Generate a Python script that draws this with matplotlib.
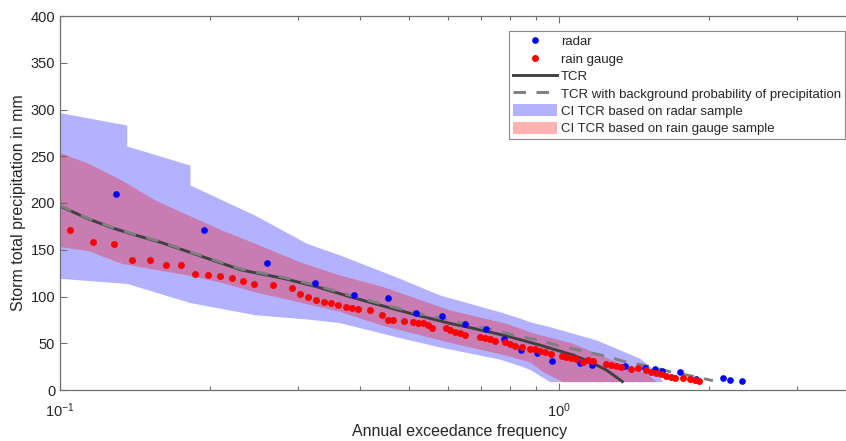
import numpy as np
import matplotlib
matplotlib.use("Agg")
import matplotlib.pyplot as plt
from matplotlib.ticker import NullFormatter, LogLocator

plt.rcParams['font.family'] = ['Liberation Sans', 'DejaVu Sans']
plt.rcParams['mathtext.default'] = 'regular'

# radar sample (annual exceedance frequency, storm total precipitation mm)
radar_x = [0.1297, 0.1944, 0.2596, 0.324, 0.3889, 0.4536, 0.5185, 0.5836, 0.648, 0.714,
           0.776, 0.841, 0.906, 0.971, 1.102, 1.166, 1.36, 1.487, 1.557, 1.614,
           1.748, 1.882, 2.135, 2.2, 2.33]
radar_y = [210, 171, 135.4, 114, 101.6, 98.4, 82, 78.8, 70.2, 64.9,
           54.9, 42.8, 39.9, 31, 28.5, 26.7, 25.7, 23.9, 22.1, 20.3,
           19.6, 11.8, 12.5, 10.7, 9.3]

# rain gauge sample
gauge_x = [0.1047, 0.1163, 0.1281, 0.1396, 0.1515, 0.1631, 0.1745, 0.1865, 0.198, 0.2092,
           0.2214, 0.2329, 0.2448, 0.2676, 0.2912, 0.3027, 0.3145, 0.3264, 0.3376, 0.3492,
           0.3613, 0.3737, 0.3842, 0.3962, 0.418, 0.4426, 0.4536, 0.4656, 0.4884, 0.5105,
           0.5224, 0.5346, 0.547, 0.558, 0.5935, 0.6047, 0.6186, 0.633, 0.648, 0.6946,
           0.7108, 0.7273, 0.744, 0.7796, 0.7978, 0.8163, 0.8422, 0.8748, 0.8951, 0.9162,
           0.9374, 0.967, 1.013, 1.036, 1.06, 1.085, 1.119, 1.145, 1.172, 1.246,
           1.275, 1.305, 1.336, 1.399, 1.442, 1.499, 1.534, 1.570, 1.606, 1.644,
           1.682, 1.708, 1.775, 1.830, 1.873, 1.908]
gauge_y = [171, 158.6, 156.5, 138.7, 138.7, 133.4, 133.4, 124, 123.3, 122.2,
           119.8, 116.9, 113.4, 112, 108.7, 103, 99.8, 96.3, 94.4, 93.3,
           90.5, 88.8, 87.3, 86.3, 85.2, 79.8, 75.2, 74.9, 73.8, 72.4,
           72, 71.3, 69.5, 65.9, 65.9, 64.2, 62.4, 60.6, 58.5, 57,
           55.3, 54.2, 52.1, 51, 48.8, 47, 45.6, 44.2, 43.5, 42,
           40.3, 38.8, 36.4, 35.6, 34.5, 32.8, 30.3, 32.1, 31.4, 27.8,
           26.7, 25.7, 24.9, 22.1, 23.5, 21.4, 19.6, 17.8, 16.8, 15,
           14.2, 13.2, 13.2, 11.8, 10.7, 9.6]

# TCR curve
tcr_x = [0.1, 0.1139, 0.1279, 0.1414, 0.1599, 0.1807, 0.2045, 0.2313, 0.2803, 0.3269,
         0.3813, 0.4446, 0.5186, 0.6047, 0.6736, 0.7856, 0.9162, 1.068, 1.1536, 1.246, 1.342]
tcr_y = [196.8, 183, 173, 165.8, 157.6, 147.9, 138, 128.3, 119.4, 110.5,
         99.8, 89.8, 80.2, 71.3, 66, 57.8, 48.1, 37.4, 30.3, 21.4, 9]

# TCR with background probability of precipitation
tcrbg_x = [0.1, 0.1139, 0.1279, 0.1414, 0.1599, 0.1807, 0.2045, 0.2313, 0.2803, 0.3269,
           0.3813, 0.4446, 0.5186, 0.6047, 0.6736, 0.744, 0.8228, 0.909, 1.005, 1.11,
           1.237, 1.356, 1.499, 1.669, 1.845, 2.038]
tcrbg_y = [197.5, 183.5, 173.5, 166.3, 158.2, 148.5, 138.8, 129.2, 120.5, 111.8,
           101.3, 91.6, 82.3, 74.9, 68.4, 64.2, 57.8, 53.5, 47, 42,
           36.4, 30.3, 26, 19.6, 15, 10]

# confidence interval, radar sample
ci_radar_x = [0.1, 0.1361, 0.1361, 0.1822, 0.1822, 0.2459, 0.3122, 0.3639, 0.4801, 0.5774,
              0.7616, 0.8355, 0.8748, 0.9594, 1.19, 1.453, 1.570, 1.616]
ci_radar_lo = [119.4, 114, 114, 93.5, 93.5, 80.5, 76, 72, 56, 46,
               33, 26, 22, 9, 9, 9, 9, 9]
ci_radar_hi = [296.6, 283.4, 261, 240.6, 219.3, 187, 156.9, 144.4, 119.4, 101.6,
               83.7, 77, 73, 67.7, 53.5, 34, 19.6, 9]

# confidence interval, rain gauge sample
ci_gauge_x = [0.1, 0.1139, 0.1329, 0.155, 0.1807, 0.211, 0.2459, 0.3027, 0.3639, 0.4446,
              0.6047, 0.7856, 0.8748, 0.9336, 1.017, 1.067, 1.283, 1.499, 1.570]
ci_gauge_lo = [153.3, 149, 135.4, 129, 123, 115, 105, 94, 84, 69,
               51, 37, 30, 19, 9, 9, 9, 9, 9]
ci_gauge_hi = [253.8, 242.5, 224.6, 203.2, 187.2, 171.1, 156.9, 137, 123, 110.5,
               85.6, 71.3, 62.3, 58, 53, 50, 32, 17.8, 9]

fig = plt.figure(figsize=(8.46, 4.41), dpi=100)
ax = fig.add_axes([60/846, 51/441, 799/846, 374/441])

ax.fill_between(ci_radar_x, ci_radar_lo, ci_radar_hi, color='blue', alpha=0.3, lw=0,
                label='CI TCR based on radar sample', zorder=1)
ax.fill_between(ci_gauge_x, ci_gauge_lo, ci_gauge_hi, color='red', alpha=0.3, lw=0,
                label='CI TCR based on rain gauge sample', zorder=2)

l1, = ax.plot(tcr_x, tcr_y, color='#404040', lw=2.1, label='TCR', zorder=3)
l2, = ax.plot(tcrbg_x, tcrbg_y, color='#7f7f7f', lw=2.1, dashes=(4.3, 3.6),
              label='TCR with background probability of precipitation', zorder=4)
p1, = ax.plot(radar_x, radar_y, 'o', color='blue', ms=4.8, mew=0, label='radar', zorder=5)
p2, = ax.plot(gauge_x, gauge_y, 'o', color='red', ms=5.0, mew=0, label='rain gauge', zorder=6)

ax.set_xscale('log')
ax.set_xlim(0.1, 4)
ax.set_ylim(0, 400)
ax.set_yticks(np.arange(0, 401, 50))
ax.xaxis.set_minor_locator(LogLocator(base=10, subs=np.arange(2, 10)))
ax.xaxis.set_minor_formatter(NullFormatter())

tc = '#262626'
ax.tick_params(which='both', direction='in', top=True, right=True, colors='#707070',
               labelcolor=tc, labelsize=10.5)
ax.tick_params(which='major', length=5, width=0.8)
ax.tick_params(which='minor', length=3, width=0.8)
ax.tick_params(axis='x', pad=8)
for s in ax.spines.values():
    s.set_color('#707070')
    s.set_linewidth(0.9)

ax.set_ylabel('Storm total precipitation in mm', fontsize=11.5, color=tc, labelpad=3)
ax.set_xlabel('Annual exceedance frequency', fontsize=11.5, color=tc, labelpad=3)

fills = ax.get_legend_handles_labels()[0][:2]
h = [p1, p2, l1, l2] + fills
lab = [x.get_label() for x in h]
leg = ax.legend(h, lab, loc='upper right', bbox_to_anchor=(845/846, 1 - 31/441),
                bbox_transform=fig.transFigure, borderaxespad=0, fontsize=9.5,
                fancybox=False, framealpha=1, edgecolor='#888888', handlelength=3.3,
                handleheight=1.0, handletextpad=0.3, labelspacing=0.3, borderpad=0.3)
leg.get_frame().set_linewidth(0.8)
for t in leg.get_texts():
    t.set_color(tc)

fig.savefig('out.png', dpi=100)
